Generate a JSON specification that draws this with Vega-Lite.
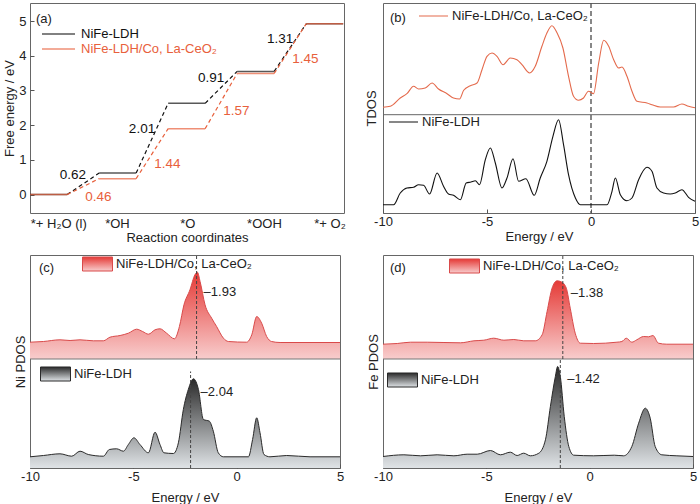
{
  "$schema": "https://vega.github.io/schema/vega-lite/v6.json",
  "padding": {"left": 3, "top": 1, "right": 0, "bottom": 0},
  "bounds": "flush",
  "columns": 2,
  "spacing": {"row": 42, "column": 39},
  "datasets": {
    "levels": [
      {"series": "NiFe-LDH", "step": 0, "G": 0},
      {"series": "NiFe-LDH", "step": 1, "G": 0.62},
      {"series": "NiFe-LDH", "step": 2, "G": 2.63},
      {"series": "NiFe-LDH", "step": 3, "G": 3.55},
      {"series": "NiFe-LDH", "step": 4, "G": 4.92},
      {"series": "NiFe-LDH/Co, La-CeO₂", "step": 0, "G": 0},
      {"series": "NiFe-LDH/Co, La-CeO₂", "step": 1, "G": 0.46},
      {"series": "NiFe-LDH/Co, La-CeO₂", "step": 2, "G": 1.9},
      {"series": "NiFe-LDH/Co, La-CeO₂", "step": 3, "G": 3.49},
      {"series": "NiFe-LDH/Co, La-CeO₂", "step": 4, "G": 4.92}
    ],
    "steps": [
      {"series": "NiFe-LDH", "from": 0, "to": 1, "g0": 0, "g1": 0.62, "dG": "0.62"},
      {"series": "NiFe-LDH", "from": 1, "to": 2, "g0": 0.62, "g1": 2.63, "dG": "2.01"},
      {"series": "NiFe-LDH", "from": 2, "to": 3, "g0": 2.63, "g1": 3.55, "dG": "0.91"},
      {"series": "NiFe-LDH", "from": 3, "to": 4, "g0": 3.55, "g1": 4.92, "dG": "1.31"},
      {"series": "NiFe-LDH/Co, La-CeO₂", "from": 0, "to": 1, "g0": 0, "g1": 0.46, "dG": "0.46"},
      {"series": "NiFe-LDH/Co, La-CeO₂", "from": 1, "to": 2, "g0": 0.46, "g1": 1.9, "dG": "1.44"},
      {"series": "NiFe-LDH/Co, La-CeO₂", "from": 2, "to": 3, "g0": 1.9, "g1": 3.49, "dG": "1.57"},
      {"series": "NiFe-LDH/Co, La-CeO₂", "from": 3, "to": 4, "g0": 3.49, "g1": 4.92, "dG": "1.45"}
    ],
    "tdos": [
      {"s": "NiFe-LDH/Co, La-CeO₂", "E": -10, "v": 105.7},
      {"s": "NiFe-LDH/Co, La-CeO₂", "E": -9.65, "v": 106.7},
      {"s": "NiFe-LDH/Co, La-CeO₂", "E": -9.17, "v": 115},
      {"s": "NiFe-LDH/Co, La-CeO₂", "E": -8.85, "v": 119.3},
      {"s": "NiFe-LDH/Co, La-CeO₂", "E": -8.53, "v": 126.7},
      {"s": "NiFe-LDH/Co, La-CeO₂", "E": -8.29, "v": 124},
      {"s": "NiFe-LDH/Co, La-CeO₂", "E": -7.97, "v": 125},
      {"s": "NiFe-LDH/Co, La-CeO₂", "E": -7.64, "v": 130},
      {"s": "NiFe-LDH/Co, La-CeO₂", "E": -7.33, "v": 124},
      {"s": "NiFe-LDH/Co, La-CeO₂", "E": -6.92, "v": 119.3},
      {"s": "NiFe-LDH/Co, La-CeO₂", "E": -6.61, "v": 115},
      {"s": "NiFe-LDH/Co, La-CeO₂", "E": -6.32, "v": 114},
      {"s": "NiFe-LDH/Co, La-CeO₂", "E": -6.12, "v": 122.7},
      {"s": "NiFe-LDH/Co, La-CeO₂", "E": -5.8, "v": 127.3},
      {"s": "NiFe-LDH/Co, La-CeO₂", "E": -5.48, "v": 130},
      {"s": "NiFe-LDH/Co, La-CeO₂", "E": -5.24, "v": 143.3},
      {"s": "NiFe-LDH/Co, La-CeO₂", "E": -5.0, "v": 156.7},
      {"s": "NiFe-LDH/Co, La-CeO₂", "E": -4.76, "v": 160},
      {"s": "NiFe-LDH/Co, La-CeO₂", "E": -4.52, "v": 156.7},
      {"s": "NiFe-LDH/Co, La-CeO₂", "E": -4.23, "v": 148.3},
      {"s": "NiFe-LDH/Co, La-CeO₂", "E": -3.88, "v": 155},
      {"s": "NiFe-LDH/Co, La-CeO₂", "E": -3.56, "v": 153.3},
      {"s": "NiFe-LDH/Co, La-CeO₂", "E": -3.32, "v": 148.3},
      {"s": "NiFe-LDH/Co, La-CeO₂", "E": -2.95, "v": 140},
      {"s": "NiFe-LDH/Co, La-CeO₂", "E": -2.68, "v": 146.7},
      {"s": "NiFe-LDH/Co, La-CeO₂", "E": -2.36, "v": 166.7},
      {"s": "NiFe-LDH/Co, La-CeO₂", "E": -2.12, "v": 180},
      {"s": "NiFe-LDH/Co, La-CeO₂", "E": -1.88, "v": 187.3},
      {"s": "NiFe-LDH/Co, La-CeO₂", "E": -1.63, "v": 180},
      {"s": "NiFe-LDH/Co, La-CeO₂", "E": -1.35, "v": 165},
      {"s": "NiFe-LDH/Co, La-CeO₂", "E": -1.08, "v": 136.7},
      {"s": "NiFe-LDH/Co, La-CeO₂", "E": -0.84, "v": 116.7},
      {"s": "NiFe-LDH/Co, La-CeO₂", "E": -0.6, "v": 112.7},
      {"s": "NiFe-LDH/Co, La-CeO₂", "E": -0.36, "v": 115},
      {"s": "NiFe-LDH/Co, La-CeO₂", "E": -0.12, "v": 121.7},
      {"s": "NiFe-LDH/Co, La-CeO₂", "E": 0.12, "v": 119.3},
      {"s": "NiFe-LDH/Co, La-CeO₂", "E": 0.37, "v": 150},
      {"s": "NiFe-LDH/Co, La-CeO₂", "E": 0.61, "v": 172.7},
      {"s": "NiFe-LDH/Co, La-CeO₂", "E": 0.85, "v": 166.7},
      {"s": "NiFe-LDH/Co, La-CeO₂", "E": 1.09, "v": 153.3},
      {"s": "NiFe-LDH/Co, La-CeO₂", "E": 1.33, "v": 145},
      {"s": "NiFe-LDH/Co, La-CeO₂", "E": 1.49, "v": 146},
      {"s": "NiFe-LDH/Co, La-CeO₂", "E": 1.73, "v": 136.7},
      {"s": "NiFe-LDH/Co, La-CeO₂", "E": 1.97, "v": 121.7},
      {"s": "NiFe-LDH/Co, La-CeO₂", "E": 2.21, "v": 111.7},
      {"s": "NiFe-LDH/Co, La-CeO₂", "E": 2.69, "v": 110},
      {"s": "NiFe-LDH/Co, La-CeO₂", "E": 2.93, "v": 108.3},
      {"s": "NiFe-LDH/Co, La-CeO₂", "E": 3.33, "v": 106},
      {"s": "NiFe-LDH/Co, La-CeO₂", "E": 3.97, "v": 106},
      {"s": "NiFe-LDH/Co, La-CeO₂", "E": 4.37, "v": 109},
      {"s": "NiFe-LDH/Co, La-CeO₂", "E": 4.69, "v": 106.7},
      {"s": "NiFe-LDH/Co, La-CeO₂", "E": 5, "v": 105.3},
      {"s": "NiFe-LDH", "E": -10, "v": 8.3},
      {"s": "NiFe-LDH", "E": -9.49, "v": 8.3},
      {"s": "NiFe-LDH", "E": -9.17, "v": 20},
      {"s": "NiFe-LDH", "E": -8.85, "v": 25},
      {"s": "NiFe-LDH", "E": -8.53, "v": 25.7},
      {"s": "NiFe-LDH", "E": -8.29, "v": 28.3},
      {"s": "NiFe-LDH", "E": -8.05, "v": 27.7},
      {"s": "NiFe-LDH", "E": -7.76, "v": 19},
      {"s": "NiFe-LDH", "E": -7.4, "v": 40},
      {"s": "NiFe-LDH", "E": -7.09, "v": 26.7},
      {"s": "NiFe-LDH", "E": -6.85, "v": 19},
      {"s": "NiFe-LDH", "E": -6.61, "v": 17.7},
      {"s": "NiFe-LDH", "E": -6.28, "v": 13.3},
      {"s": "NiFe-LDH", "E": -6.0, "v": 30},
      {"s": "NiFe-LDH", "E": -5.77, "v": 31},
      {"s": "NiFe-LDH", "E": -5.56, "v": 32.3},
      {"s": "NiFe-LDH", "E": -5.36, "v": 28.3},
      {"s": "NiFe-LDH", "E": -5.08, "v": 53.3},
      {"s": "NiFe-LDH", "E": -4.84, "v": 65},
      {"s": "NiFe-LDH", "E": -4.6, "v": 50},
      {"s": "NiFe-LDH", "E": -4.28, "v": 25},
      {"s": "NiFe-LDH", "E": -4.04, "v": 35},
      {"s": "NiFe-LDH", "E": -3.75, "v": 54.3},
      {"s": "NiFe-LDH", "E": -3.48, "v": 31.7},
      {"s": "NiFe-LDH", "E": -3.13, "v": 34.3},
      {"s": "NiFe-LDH", "E": -2.73, "v": 17.7},
      {"s": "NiFe-LDH", "E": -2.44, "v": 35},
      {"s": "NiFe-LDH", "E": -2.12, "v": 51.7},
      {"s": "NiFe-LDH", "E": -1.83, "v": 76.7},
      {"s": "NiFe-LDH", "E": -1.56, "v": 93.3},
      {"s": "NiFe-LDH", "E": -1.32, "v": 68.3},
      {"s": "NiFe-LDH", "E": -1.08, "v": 38.3},
      {"s": "NiFe-LDH", "E": -0.75, "v": 15},
      {"s": "NiFe-LDH", "E": -0.51, "v": 8.3},
      {"s": "NiFe-LDH", "E": 0.77, "v": 8.3},
      {"s": "NiFe-LDH", "E": 1.01, "v": 21.7},
      {"s": "NiFe-LDH", "E": 1.17, "v": 35},
      {"s": "NiFe-LDH", "E": 1.41, "v": 18.3},
      {"s": "NiFe-LDH", "E": 1.73, "v": 12.3},
      {"s": "NiFe-LDH", "E": 1.97, "v": 15},
      {"s": "NiFe-LDH", "E": 2.29, "v": 33.3},
      {"s": "NiFe-LDH", "E": 2.69, "v": 45.7},
      {"s": "NiFe-LDH", "E": 2.93, "v": 41.7},
      {"s": "NiFe-LDH", "E": 3.17, "v": 25},
      {"s": "NiFe-LDH", "E": 3.49, "v": 20},
      {"s": "NiFe-LDH", "E": 3.81, "v": 19},
      {"s": "NiFe-LDH", "E": 4.05, "v": 20},
      {"s": "NiFe-LDH", "E": 4.37, "v": 23.3},
      {"s": "NiFe-LDH", "E": 4.69, "v": 15.7},
      {"s": "NiFe-LDH", "E": 5, "v": 11.7}
    ],
    "ni": [
      {"s": "NiFe-LDH/Co, La-CeO₂", "E": -10, "v": 125.8},
      {"s": "NiFe-LDH/Co, La-CeO₂", "E": -9.35, "v": 126.5},
      {"s": "NiFe-LDH/Co, La-CeO₂", "E": -8.55, "v": 128.2},
      {"s": "NiFe-LDH/Co, La-CeO₂", "E": -8.06, "v": 127.5},
      {"s": "NiFe-LDH/Co, La-CeO₂", "E": -7.58, "v": 128.2},
      {"s": "NiFe-LDH/Co, La-CeO₂", "E": -6.93, "v": 127.2},
      {"s": "NiFe-LDH/Co, La-CeO₂", "E": -6.45, "v": 127.2},
      {"s": "NiFe-LDH/Co, La-CeO₂", "E": -6.13, "v": 130.8},
      {"s": "NiFe-LDH/Co, La-CeO₂", "E": -5.64, "v": 132.5},
      {"s": "NiFe-LDH/Co, La-CeO₂", "E": -5.24, "v": 134.8},
      {"s": "NiFe-LDH/Co, La-CeO₂", "E": -4.84, "v": 138.8},
      {"s": "NiFe-LDH/Co, La-CeO₂", "E": -4.55, "v": 136.5},
      {"s": "NiFe-LDH/Co, La-CeO₂", "E": -4.27, "v": 133.8},
      {"s": "NiFe-LDH/Co, La-CeO₂", "E": -3.95, "v": 138.2},
      {"s": "NiFe-LDH/Co, La-CeO₂", "E": -3.71, "v": 139.2},
      {"s": "NiFe-LDH/Co, La-CeO₂", "E": -3.39, "v": 134.8},
      {"s": "NiFe-LDH/Co, La-CeO₂", "E": -3.01, "v": 129.2},
      {"s": "NiFe-LDH/Co, La-CeO₂", "E": -2.77, "v": 141.5},
      {"s": "NiFe-LDH/Co, La-CeO₂", "E": -2.55, "v": 163.2},
      {"s": "NiFe-LDH/Co, La-CeO₂", "E": -2.26, "v": 178.2},
      {"s": "NiFe-LDH/Co, La-CeO₂", "E": -2.02, "v": 193.2},
      {"s": "NiFe-LDH/Co, La-CeO₂", "E": -1.9, "v": 195.8},
      {"s": "NiFe-LDH/Co, La-CeO₂", "E": -1.77, "v": 186.5},
      {"s": "NiFe-LDH/Co, La-CeO₂", "E": -1.53, "v": 163.2},
      {"s": "NiFe-LDH/Co, La-CeO₂", "E": -1.21, "v": 149.8},
      {"s": "NiFe-LDH/Co, La-CeO₂", "E": -0.97, "v": 141.5},
      {"s": "NiFe-LDH/Co, La-CeO₂", "E": -0.64, "v": 129.8},
      {"s": "NiFe-LDH/Co, La-CeO₂", "E": -0.4, "v": 126.5},
      {"s": "NiFe-LDH/Co, La-CeO₂", "E": 0.48, "v": 125.8},
      {"s": "NiFe-LDH/Co, La-CeO₂", "E": 0.73, "v": 133.2},
      {"s": "NiFe-LDH/Co, La-CeO₂", "E": 0.97, "v": 151.5},
      {"s": "NiFe-LDH/Co, La-CeO₂", "E": 1.21, "v": 144.8},
      {"s": "NiFe-LDH/Co, La-CeO₂", "E": 1.45, "v": 131.5},
      {"s": "NiFe-LDH/Co, La-CeO₂", "E": 1.69, "v": 126.5},
      {"s": "NiFe-LDH/Co, La-CeO₂", "E": 2.1, "v": 125.5},
      {"s": "NiFe-LDH/Co, La-CeO₂", "E": 5, "v": 125.5},
      {"s": "NiFe-LDH", "E": -10, "v": 11.2},
      {"s": "NiFe-LDH", "E": -9.35, "v": 12.5},
      {"s": "NiFe-LDH", "E": -8.55, "v": 14.2},
      {"s": "NiFe-LDH", "E": -7.98, "v": 11.8},
      {"s": "NiFe-LDH", "E": -7.58, "v": 16.8},
      {"s": "NiFe-LDH", "E": -7.18, "v": 13.5},
      {"s": "NiFe-LDH", "E": -6.45, "v": 11.8},
      {"s": "NiFe-LDH", "E": -6.16, "v": 18.5},
      {"s": "NiFe-LDH", "E": -5.81, "v": 19.2},
      {"s": "NiFe-LDH", "E": -5.48, "v": 16.8},
      {"s": "NiFe-LDH", "E": -5.24, "v": 23.5},
      {"s": "NiFe-LDH", "E": -4.97, "v": 30.2},
      {"s": "NiFe-LDH", "E": -4.68, "v": 23.5},
      {"s": "NiFe-LDH", "E": -4.27, "v": 15.2},
      {"s": "NiFe-LDH", "E": -3.95, "v": 35.8},
      {"s": "NiFe-LDH", "E": -3.71, "v": 23.5},
      {"s": "NiFe-LDH", "E": -3.52, "v": 15.2},
      {"s": "NiFe-LDH", "E": -3.06, "v": 14.5},
      {"s": "NiFe-LDH", "E": -2.82, "v": 25.2},
      {"s": "NiFe-LDH", "E": -2.58, "v": 58.5},
      {"s": "NiFe-LDH", "E": -2.34, "v": 78.5},
      {"s": "NiFe-LDH", "E": -2.09, "v": 89.2},
      {"s": "NiFe-LDH", "E": -1.85, "v": 78.5},
      {"s": "NiFe-LDH", "E": -1.61, "v": 48.5},
      {"s": "NiFe-LDH", "E": -1.32, "v": 46.8},
      {"s": "NiFe-LDH", "E": -1.13, "v": 36.8},
      {"s": "NiFe-LDH", "E": -0.89, "v": 15.2},
      {"s": "NiFe-LDH", "E": -0.64, "v": 11.2},
      {"s": "NiFe-LDH", "E": 0.57, "v": 11.2},
      {"s": "NiFe-LDH", "E": 0.77, "v": 28.5},
      {"s": "NiFe-LDH", "E": 0.97, "v": 50.2},
      {"s": "NiFe-LDH", "E": 1.13, "v": 35.2},
      {"s": "NiFe-LDH", "E": 1.32, "v": 13.5},
      {"s": "NiFe-LDH", "E": 1.61, "v": 11.2},
      {"s": "NiFe-LDH", "E": 2.42, "v": 12.5},
      {"s": "NiFe-LDH", "E": 3.55, "v": 11.2},
      {"s": "NiFe-LDH", "E": 5, "v": 11.2}
    ],
    "fe": [
      {"s": "NiFe-LDH/Co, La-CeO₂", "E": -10, "v": 123.8},
      {"s": "NiFe-LDH/Co, La-CeO₂", "E": -9.31, "v": 124.5},
      {"s": "NiFe-LDH/Co, La-CeO₂", "E": -8.67, "v": 125.8},
      {"s": "NiFe-LDH/Co, La-CeO₂", "E": -7.86, "v": 125.8},
      {"s": "NiFe-LDH/Co, La-CeO₂", "E": -7.05, "v": 125.5},
      {"s": "NiFe-LDH/Co, La-CeO₂", "E": -6.25, "v": 125.2},
      {"s": "NiFe-LDH/Co, La-CeO₂", "E": -5.6, "v": 127.2},
      {"s": "NiFe-LDH/Co, La-CeO₂", "E": -5.12, "v": 127.8},
      {"s": "NiFe-LDH/Co, La-CeO₂", "E": -4.64, "v": 129.8},
      {"s": "NiFe-LDH/Co, La-CeO₂", "E": -4.15, "v": 127.8},
      {"s": "NiFe-LDH/Co, La-CeO₂", "E": -3.67, "v": 128.5},
      {"s": "NiFe-LDH/Co, La-CeO₂", "E": -3.19, "v": 127.2},
      {"s": "NiFe-LDH/Co, La-CeO₂", "E": -2.63, "v": 127.2},
      {"s": "NiFe-LDH/Co, La-CeO₂", "E": -2.3, "v": 133.2},
      {"s": "NiFe-LDH/Co, La-CeO₂", "E": -2.06, "v": 156.5},
      {"s": "NiFe-LDH/Co, La-CeO₂", "E": -1.82, "v": 179.8},
      {"s": "NiFe-LDH/Co, La-CeO₂", "E": -1.58, "v": 187.2},
      {"s": "NiFe-LDH/Co, La-CeO₂", "E": -1.34, "v": 185.8},
      {"s": "NiFe-LDH/Co, La-CeO₂", "E": -1.13, "v": 179.8},
      {"s": "NiFe-LDH/Co, La-CeO₂", "E": -0.94, "v": 159.8},
      {"s": "NiFe-LDH/Co, La-CeO₂", "E": -0.7, "v": 134.8},
      {"s": "NiFe-LDH/Co, La-CeO₂", "E": -0.45, "v": 124.8},
      {"s": "NiFe-LDH/Co, La-CeO₂", "E": 0.19, "v": 124.5},
      {"s": "NiFe-LDH/Co, La-CeO₂", "E": 1.32, "v": 125.8},
      {"s": "NiFe-LDH/Co, La-CeO₂", "E": 1.56, "v": 126.5},
      {"s": "NiFe-LDH/Co, La-CeO₂", "E": 1.77, "v": 129.8},
      {"s": "NiFe-LDH/Co, La-CeO₂", "E": 2.04, "v": 125.8},
      {"s": "NiFe-LDH/Co, La-CeO₂", "E": 2.28, "v": 128.2},
      {"s": "NiFe-LDH/Co, La-CeO₂", "E": 2.61, "v": 131.5},
      {"s": "NiFe-LDH/Co, La-CeO₂", "E": 2.85, "v": 131.2},
      {"s": "NiFe-LDH/Co, La-CeO₂", "E": 3.06, "v": 132.5},
      {"s": "NiFe-LDH/Co, La-CeO₂", "E": 3.33, "v": 124.8},
      {"s": "NiFe-LDH/Co, La-CeO₂", "E": 3.73, "v": 123.8},
      {"s": "NiFe-LDH/Co, La-CeO₂", "E": 5, "v": 123.8},
      {"s": "NiFe-LDH", "E": -10, "v": 11.5},
      {"s": "NiFe-LDH", "E": -8.99, "v": 13.2},
      {"s": "NiFe-LDH", "E": -8.18, "v": 12.2},
      {"s": "NiFe-LDH", "E": -7.38, "v": 13.2},
      {"s": "NiFe-LDH", "E": -6.57, "v": 12.2},
      {"s": "NiFe-LDH", "E": -5.93, "v": 13.8},
      {"s": "NiFe-LDH", "E": -5.44, "v": 13.8},
      {"s": "NiFe-LDH", "E": -4.8, "v": 17.5},
      {"s": "NiFe-LDH", "E": -4.32, "v": 13.2},
      {"s": "NiFe-LDH", "E": -3.84, "v": 15.8},
      {"s": "NiFe-LDH", "E": -3.51, "v": 12.5},
      {"s": "NiFe-LDH", "E": -3.19, "v": 14.8},
      {"s": "NiFe-LDH", "E": -2.87, "v": 12.2},
      {"s": "NiFe-LDH", "E": -2.46, "v": 14.8},
      {"s": "NiFe-LDH", "E": -2.14, "v": 28.2},
      {"s": "NiFe-LDH", "E": -1.9, "v": 61.5},
      {"s": "NiFe-LDH", "E": -1.66, "v": 91.5},
      {"s": "NiFe-LDH", "E": -1.55, "v": 101.5},
      {"s": "NiFe-LDH", "E": -1.42, "v": 91.5},
      {"s": "NiFe-LDH", "E": -1.23, "v": 51.5},
      {"s": "NiFe-LDH", "E": -1.01, "v": 21.5},
      {"s": "NiFe-LDH", "E": -0.77, "v": 12.8},
      {"s": "NiFe-LDH", "E": 0.19, "v": 12.2},
      {"s": "NiFe-LDH", "E": 1.19, "v": 12.8},
      {"s": "NiFe-LDH", "E": 1.64, "v": 12.2},
      {"s": "NiFe-LDH", "E": 2.04, "v": 21.5},
      {"s": "NiFe-LDH", "E": 2.37, "v": 44.8},
      {"s": "NiFe-LDH", "E": 2.69, "v": 59.8},
      {"s": "NiFe-LDH", "E": 2.93, "v": 49.8},
      {"s": "NiFe-LDH", "E": 3.17, "v": 21.5},
      {"s": "NiFe-LDH", "E": 3.49, "v": 13.2},
      {"s": "NiFe-LDH", "E": 4.22, "v": 12.2},
      {"s": "NiFe-LDH", "E": 5, "v": 11.5}
    ],
    "dband": [
      {"panel": "Ni", "part": "up", "E": -1.94, "label": "–1.93"},
      {"panel": "Ni", "part": "low", "E": -2.23, "label": "–2.04"},
      {"panel": "Fe", "part": "up", "E": -1.3, "label": "–1.38"},
      {"panel": "Fe", "part": "low", "E": -1.42, "label": "–1.42"}
    ]
  },
  "concat": [
    {
      "width": 314,
      "height": 210,
      "title": {"text": "(a)", "frame": "group", "dx": 6, "offset": -22.5},
      "layer": [
        {
          "data": {"name": "steps"},
          "transform": [{"filter": "datum.series === 'NiFe-LDH'"}],
          "mark": {"type": "rule", "color": "#111111", "strokeDash": [4, 3], "strokeWidth": 1.2, "xOffset": 18.5, "x2Offset": -18.5},
          "encoding": {
            "x": {
              "field": "from", "type": "quantitative", "title": "Reaction coordinates",
              "scale": {"domain": [-0.27, 4.28], "nice": false, "zero": false},
              "axis": {
                "values": [0.14, 0.99, 2.01, 3.12, 4.07],
                "labelExpr": "datum.value < 0.5 ? '*+ H₂O (l)' : datum.value < 1.5 ? '*OH' : datum.value < 2.5 ? '*O' : datum.value < 3.5 ? '*OOH' : '*+ O₂'",
                "ticks": false, "labelFlush": false, "labelOverlap": false, "labelPadding": 4, "titlePadding": 1
              }
            },
            "x2": {"field": "to"},
            "y": {
              "field": "g0", "type": "quantitative", "title": "Free energy / eV",
              "scale": {"domain": [-0.53, 5.52], "nice": false, "zero": false},
              "axis": {"values": [0, 1, 2, 3, 4, 5], "titlePadding": 2}
            },
            "y2": {"field": "g1"}
          }
        },
        {
          "data": {"name": "steps"},
          "transform": [{"filter": "datum.series !== 'NiFe-LDH'"}],
          "mark": {"type": "rule", "color": "#e8603c", "strokeDash": [4, 3], "strokeWidth": 1.2, "xOffset": 18.5, "x2Offset": -18.5},
          "encoding": {
            "x": {"field": "from", "type": "quantitative", "title": "Reaction coordinates"},
            "x2": {"field": "to"},
            "y": {"field": "g0", "type": "quantitative", "title": "Free energy / eV"},
            "y2": {"field": "g1"}
          }
        },
        {
          "data": {"name": "levels"},
          "transform": [{"filter": "datum.series === 'NiFe-LDH'"}],
          "mark": {"type": "tick", "orient": "horizontal", "size": 37, "thickness": 1.5},
          "encoding": {
            "x": {"field": "step", "type": "quantitative", "title": "Reaction coordinates"},
            "y": {"field": "G", "type": "quantitative", "title": "Free energy / eV"},
            "color": {
              "field": "series", "type": "nominal", "scale": {"range": ["#111111"]},
              "legend": {"title": null, "orient": "none", "legendX": 11, "legendY": 24, "clipHeight": 14, "symbolType": "stroke", "symbolSize": 1089, "symbolStrokeWidth": 1.5, "symbolStrokeColor": "#111111", "labelOffset": 5, "labelColor": "#111111"}
            }
          }
        },
        {
          "data": {"name": "levels"},
          "transform": [{"filter": "datum.series !== 'NiFe-LDH'"}],
          "mark": {"type": "tick", "orient": "horizontal", "size": 37, "thickness": 1.5},
          "encoding": {
            "x": {"field": "step", "type": "quantitative", "title": "Reaction coordinates"},
            "y": {"field": "G", "type": "quantitative", "title": "Free energy / eV"},
            "color": {
              "field": "series", "type": "nominal", "scale": {"range": ["#e8603c"]},
              "legend": {"title": null, "orient": "none", "legendX": 11, "legendY": 39, "clipHeight": 14, "symbolType": "stroke", "symbolSize": 1089, "symbolStrokeWidth": 1.5, "symbolStrokeColor": "#e8603c", "labelOffset": 5, "labelColor": "#e8603c"}
            }
          }
        },
        {
          "data": {"name": "steps"},
          "transform": [
            {"filter": "datum.series === 'NiFe-LDH'"},
            {"calculate": "(datum.from + datum.to) / 2", "as": "xm"},
            {"calculate": "(datum.g0 + datum.g1) / 2", "as": "gm"}
          ],
          "mark": {"type": "text", "align": "right", "baseline": "middle", "dx": 3, "dy": -9, "fontSize": 13.5, "color": "#111111"},
          "encoding": {
            "x": {"field": "xm", "type": "quantitative", "title": "Reaction coordinates"},
            "y": {"field": "gm", "type": "quantitative", "title": "Free energy / eV"},
            "text": {"field": "dG"}
          }
        },
        {
          "data": {"name": "steps"},
          "transform": [
            {"filter": "datum.series !== 'NiFe-LDH'"},
            {"calculate": "(datum.from + datum.to) / 2", "as": "xm"},
            {"calculate": "(datum.g0 + datum.g1) / 2", "as": "gm"}
          ],
          "mark": {"type": "text", "align": "left", "baseline": "middle", "dx": 2, "dy": 10, "fontSize": 13.5, "color": "#e8603c"},
          "encoding": {
            "x": {"field": "xm", "type": "quantitative", "title": "Reaction coordinates"},
            "y": {"field": "gm", "type": "quantitative", "title": "Free energy / eV"},
            "text": {"field": "dG"}
          }
        }
      ],
      "resolve": {"scale": {"color": "independent"}, "legend": {"color": "independent"}}
    },
    {
      "width": 312,
      "height": 210,
      "title": {"text": "(b)", "frame": "group", "dx": 7, "offset": -22.5},
      "layer": [
        {
          "data": {"values": [{}]},
          "mark": {"type": "rule", "color": "#555555", "strokeDash": [5, 3], "strokeWidth": 1.4},
          "encoding": {
            "x": {
              "datum": 0, "type": "quantitative", "title": "Energy / eV",
              "scale": {"domain": [-10, 5], "nice": false, "zero": false},
              "axis": {"values": [-10, -5, 0, 5], "labelExpr": "datum.value + ''", "labelFlush": false, "labelPadding": 6.5, "titlePadding": 2}
            }
          }
        },
        {
          "data": {"values": [{}]},
          "mark": {"type": "rule", "color": "#666666", "strokeWidth": 1},
          "encoding": {
            "y": {
              "datum": 98.3, "type": "quantitative", "title": "TDOS",
              "scale": {"domain": [0, 210], "nice": false, "zero": false},
              "axis": {"labels": false, "ticks": false, "titlePadding": 5}
            }
          }
        },
        {
          "data": {"name": "tdos"},
          "transform": [{"filter": "datum.s !== 'NiFe-LDH'"}],
          "mark": {"type": "line", "interpolate": "monotone", "strokeWidth": 1.1},
          "encoding": {
            "x": {"field": "E", "type": "quantitative", "title": "Energy / eV"},
            "y": {"field": "v", "type": "quantitative", "title": "TDOS"},
            "color": {
              "field": "s", "type": "nominal", "scale": {"range": ["#e46a4c"]},
              "legend": {"title": null, "orient": "none", "legendX": 35, "legendY": 6, "clipHeight": 14, "symbolType": "stroke", "symbolSize": 841, "symbolStrokeWidth": 1.2, "labelOffset": 3}
            }
          }
        },
        {
          "data": {"name": "tdos"},
          "transform": [{"filter": "datum.s === 'NiFe-LDH'"}],
          "mark": {"type": "line", "interpolate": "monotone", "strokeWidth": 1.1},
          "encoding": {
            "x": {"field": "E", "type": "quantitative", "title": "Energy / eV"},
            "y": {"field": "v", "type": "quantitative", "title": "TDOS"},
            "color": {
              "field": "s", "type": "nominal", "scale": {"range": ["#111111"]},
              "legend": {"title": null, "orient": "none", "legendX": 5, "legendY": 112, "clipHeight": 14, "symbolType": "stroke", "symbolSize": 841, "symbolStrokeWidth": 1.2, "labelOffset": 3}
            }
          }
        }
      ],
      "resolve": {"scale": {"color": "independent"}, "legend": {"color": "independent"}}
    },
    {
      "width": 310,
      "height": 213,
      "title": {"text": "(c)", "frame": "group", "dx": 9, "offset": -20.5},
      "layer": [
        {
          "data": {"name": "ni"},
          "transform": [{"filter": "datum.s !== 'NiFe-LDH'"}],
          "mark": {"type": "area", "interpolate": "monotone", "color": {"gradient": "linear", "x1": 0, "y1": 0, "x2": 0, "y2": 1, "stops": [{"offset": 0, "color": "#e53a36"}, {"offset": 1, "color": "#f8cdcd"}]}},
          "encoding": {
            "x": {
              "field": "E", "type": "quantitative", "title": "Energy / eV",
              "scale": {"domain": [-10, 5], "nice": false, "zero": false},
              "axis": {"values": [-10, -5, 0, 5], "labelExpr": "datum.value + ''", "labelFlush": false, "labelPadding": 6.5, "titlePadding": 8}
            },
            "y": {
              "field": "v", "type": "quantitative", "title": "Ni PDOS", "stack": null,
              "scale": {"domain": [0, 213], "nice": false, "zero": false},
              "axis": {"labels": false, "ticks": false, "titlePadding": 2.5}
            },
            "y2": {"datum": 109}
          }
        },
        {
          "data": {"name": "ni"},
          "transform": [{"filter": "datum.s !== 'NiFe-LDH'"}],
          "mark": {"type": "line", "interpolate": "monotone", "strokeWidth": 1},
          "encoding": {
            "x": {"field": "E", "type": "quantitative", "title": "Energy / eV"},
            "y": {"field": "v", "type": "quantitative", "title": "Ni PDOS"},
            "color": {
              "field": "s", "type": "nominal", "scale": {"range": ["#d94a4a"]},
              "legend": {
                "title": null, "orient": "none", "legendX": 52, "legendY": 1, "clipHeight": 16,
                "symbolType": "M-1,-0.467H1V0.467H-1Z", "symbolSize": 900, "symbolStrokeWidth": 1, "labelOffset": 3,
                "encode": {"symbols": {"update": {"fill": {"value": {"gradient": "linear", "x1": 0, "y1": 0, "x2": 0, "y2": 1, "stops": [{"offset": 0, "color": "#e53a36"}, {"offset": 1, "color": "#f8cdcd"}]}}}}}
              }
            }
          }
        },
        {
          "data": {"name": "ni"},
          "transform": [{"filter": "datum.s === 'NiFe-LDH'"}],
          "mark": {"type": "area", "interpolate": "monotone", "color": {"gradient": "linear", "x1": 0, "y1": 0, "x2": 0, "y2": 1, "stops": [{"offset": 0, "color": "#2a2a2a"}, {"offset": 1, "color": "#dfe3e6"}]}},
          "encoding": {
            "x": {"field": "E", "type": "quantitative", "title": "Energy / eV"},
            "y": {"field": "v", "type": "quantitative", "title": "Ni PDOS", "stack": null},
            "y2": {"datum": 0}
          }
        },
        {
          "data": {"name": "ni"},
          "transform": [{"filter": "datum.s === 'NiFe-LDH'"}],
          "mark": {"type": "line", "interpolate": "monotone", "strokeWidth": 1},
          "encoding": {
            "x": {"field": "E", "type": "quantitative", "title": "Energy / eV"},
            "y": {"field": "v", "type": "quantitative", "title": "Ni PDOS"},
            "color": {
              "field": "s", "type": "nominal", "scale": {"range": ["#2a2a2a"]},
              "legend": {
                "title": null, "orient": "none", "legendX": 10, "legendY": 111, "clipHeight": 16,
                "symbolType": "M-1,-0.467H1V0.467H-1Z", "symbolSize": 900, "symbolStrokeWidth": 1, "labelOffset": 3,
                "encode": {"symbols": {"update": {"fill": {"value": {"gradient": "linear", "x1": 0, "y1": 0, "x2": 0, "y2": 1, "stops": [{"offset": 0, "color": "#2a2a2a"}, {"offset": 1, "color": "#dfe3e6"}]}}}}}
              }
            }
          }
        },
        {
          "data": {"values": [{}]},
          "mark": {"type": "rule", "color": "#777777", "strokeWidth": 1},
          "encoding": {"y": {"datum": 109, "type": "quantitative", "title": "Ni PDOS"}}
        },
        {
          "data": {"name": "dband"},
          "transform": [{"filter": "datum.panel === 'Ni' && datum.part === 'up'"}],
          "mark": {"type": "rule", "color": "#444444", "strokeDash": [3, 2], "strokeWidth": 1},
          "encoding": {
            "x": {"field": "E", "type": "quantitative", "title": "Energy / eV"},
            "y": {"datum": 109, "type": "quantitative", "title": "Ni PDOS"},
            "y2": {"datum": 213}
          }
        },
        {
          "data": {"name": "dband"},
          "transform": [{"filter": "datum.panel === 'Ni' && datum.part === 'low'"}],
          "mark": {"type": "rule", "color": "#444444", "strokeDash": [3, 2], "strokeWidth": 1},
          "encoding": {
            "x": {"field": "E", "type": "quantitative", "title": "Energy / eV"},
            "y": {"datum": 0, "type": "quantitative", "title": "Ni PDOS"},
            "y2": {"datum": 96.5}
          }
        },
        {
          "data": {"name": "dband"},
          "transform": [{"filter": "datum.panel === 'Ni' && datum.part === 'up'"}],
          "mark": {"type": "text", "align": "left", "baseline": "middle", "dx": 7, "fontSize": 13, "color": "#222222"},
          "encoding": {
            "x": {"field": "E", "type": "quantitative", "title": "Energy / eV"},
            "y": {"datum": 176.5, "type": "quantitative", "title": "Ni PDOS"},
            "text": {"field": "label"}
          }
        },
        {
          "data": {"name": "dband"},
          "transform": [{"filter": "datum.panel === 'Ni' && datum.part === 'low'"}],
          "mark": {"type": "text", "align": "left", "baseline": "middle", "dx": 10, "fontSize": 13, "color": "#222222"},
          "encoding": {
            "x": {"field": "E", "type": "quantitative", "title": "Energy / eV"},
            "y": {"datum": 76.5, "type": "quantitative", "title": "Ni PDOS"},
            "text": {"field": "label"}
          }
        }
      ],
      "resolve": {"scale": {"color": "independent"}, "legend": {"color": "independent"}}
    },
    {
      "width": 310,
      "height": 213,
      "title": {"text": "(d)", "frame": "group", "dx": 7, "offset": -20.5},
      "layer": [
        {
          "data": {"name": "fe"},
          "transform": [{"filter": "datum.s !== 'NiFe-LDH'"}],
          "mark": {"type": "area", "interpolate": "monotone", "color": {"gradient": "linear", "x1": 0, "y1": 0, "x2": 0, "y2": 1, "stops": [{"offset": 0, "color": "#e53a36"}, {"offset": 1, "color": "#f8cdcd"}]}},
          "encoding": {
            "x": {
              "field": "E", "type": "quantitative", "title": "Energy / eV",
              "scale": {"domain": [-10, 5], "nice": false, "zero": false},
              "axis": {"values": [-10, -5, 0, 5], "labelExpr": "datum.value + ''", "labelFlush": false, "labelPadding": 6.5, "titlePadding": 8}
            },
            "y": {
              "field": "v", "type": "quantitative", "title": "Fe PDOS", "stack": null,
              "scale": {"domain": [0, 213], "nice": false, "zero": false},
              "axis": {"labels": false, "ticks": false, "titlePadding": 2.5}
            },
            "y2": {"datum": 109}
          }
        },
        {
          "data": {"name": "fe"},
          "transform": [{"filter": "datum.s !== 'NiFe-LDH'"}],
          "mark": {"type": "line", "interpolate": "monotone", "strokeWidth": 1},
          "encoding": {
            "x": {"field": "E", "type": "quantitative", "title": "Energy / eV"},
            "y": {"field": "v", "type": "quantitative", "title": "Fe PDOS"},
            "color": {
              "field": "s", "type": "nominal", "scale": {"range": ["#d94a4a"]},
              "legend": {
                "title": null, "orient": "none", "legendX": 66, "legendY": 3, "clipHeight": 16,
                "symbolType": "M-1,-0.467H1V0.467H-1Z", "symbolSize": 900, "symbolStrokeWidth": 1, "labelOffset": 3,
                "encode": {"symbols": {"update": {"fill": {"value": {"gradient": "linear", "x1": 0, "y1": 0, "x2": 0, "y2": 1, "stops": [{"offset": 0, "color": "#e53a36"}, {"offset": 1, "color": "#f8cdcd"}]}}}}}
              }
            }
          }
        },
        {
          "data": {"name": "fe"},
          "transform": [{"filter": "datum.s === 'NiFe-LDH'"}],
          "mark": {"type": "area", "interpolate": "monotone", "color": {"gradient": "linear", "x1": 0, "y1": 0, "x2": 0, "y2": 1, "stops": [{"offset": 0, "color": "#2a2a2a"}, {"offset": 1, "color": "#dfe3e6"}]}},
          "encoding": {
            "x": {"field": "E", "type": "quantitative", "title": "Energy / eV"},
            "y": {"field": "v", "type": "quantitative", "title": "Fe PDOS", "stack": null},
            "y2": {"datum": 0}
          }
        },
        {
          "data": {"name": "fe"},
          "transform": [{"filter": "datum.s === 'NiFe-LDH'"}],
          "mark": {"type": "line", "interpolate": "monotone", "strokeWidth": 1},
          "encoding": {
            "x": {"field": "E", "type": "quantitative", "title": "Energy / eV"},
            "y": {"field": "v", "type": "quantitative", "title": "Fe PDOS"},
            "color": {
              "field": "s", "type": "nominal", "scale": {"range": ["#2a2a2a"]},
              "legend": {
                "title": null, "orient": "none", "legendX": 4, "legendY": 117, "clipHeight": 16,
                "symbolType": "M-1,-0.467H1V0.467H-1Z", "symbolSize": 900, "symbolStrokeWidth": 1, "labelOffset": 3,
                "encode": {"symbols": {"update": {"fill": {"value": {"gradient": "linear", "x1": 0, "y1": 0, "x2": 0, "y2": 1, "stops": [{"offset": 0, "color": "#2a2a2a"}, {"offset": 1, "color": "#dfe3e6"}]}}}}}
              }
            }
          }
        },
        {
          "data": {"values": [{}]},
          "mark": {"type": "rule", "color": "#777777", "strokeWidth": 1},
          "encoding": {"y": {"datum": 109, "type": "quantitative", "title": "Fe PDOS"}}
        },
        {
          "data": {"name": "dband"},
          "transform": [{"filter": "datum.panel === 'Fe' && datum.part === 'up'"}],
          "mark": {"type": "rule", "color": "#444444", "strokeDash": [3, 2], "strokeWidth": 1},
          "encoding": {
            "x": {"field": "E", "type": "quantitative", "title": "Energy / eV"},
            "y": {"datum": 109, "type": "quantitative", "title": "Fe PDOS"},
            "y2": {"datum": 213}
          }
        },
        {
          "data": {"name": "dband"},
          "transform": [{"filter": "datum.panel === 'Fe' && datum.part === 'low'"}],
          "mark": {"type": "rule", "color": "#444444", "strokeDash": [3, 2], "strokeWidth": 1},
          "encoding": {
            "x": {"field": "E", "type": "quantitative", "title": "Energy / eV"},
            "y": {"datum": 0, "type": "quantitative", "title": "Fe PDOS"},
            "y2": {"datum": 109}
          }
        },
        {
          "data": {"name": "dband"},
          "transform": [{"filter": "datum.panel === 'Fe' && datum.part === 'up'"}],
          "mark": {"type": "text", "align": "left", "baseline": "middle", "dx": 8, "fontSize": 13, "color": "#222222"},
          "encoding": {
            "x": {"field": "E", "type": "quantitative", "title": "Energy / eV"},
            "y": {"datum": 175.5, "type": "quantitative", "title": "Fe PDOS"},
            "text": {"field": "label"}
          }
        },
        {
          "data": {"name": "dband"},
          "transform": [{"filter": "datum.panel === 'Fe' && datum.part === 'low'"}],
          "mark": {"type": "text", "align": "left", "baseline": "middle", "dx": 7, "fontSize": 13, "color": "#222222"},
          "encoding": {
            "x": {"field": "E", "type": "quantitative", "title": "Energy / eV"},
            "y": {"datum": 89.5, "type": "quantitative", "title": "Fe PDOS"},
            "text": {"field": "label"}
          }
        }
      ],
      "resolve": {"scale": {"color": "independent"}, "legend": {"color": "independent"}}
    }
  ],
  "config": {
    "font": "Liberation Sans",
    "view": {"stroke": "#666666", "strokeWidth": 1},
    "axis": {
      "grid": false, "domain": false, "labelFontSize": 13, "titleFontSize": 13, "titleFontWeight": "normal",
      "labelColor": "#222222", "titleColor": "#222222", "tickColor": "#555555", "tickSize": -4, "labelPadding": 8
    },
    "legend": {"labelFontSize": 13, "labelColor": "#222222", "labelLimit": 400},
    "title": {"fontSize": 13, "fontWeight": "normal", "anchor": "start", "baseline": "top", "color": "#222222"}
  }
}
